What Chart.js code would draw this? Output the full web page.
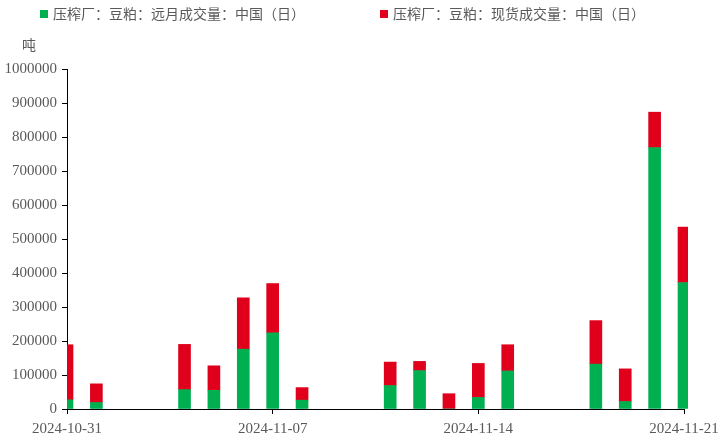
<!DOCTYPE html>
<html>
<head>
<meta charset="utf-8">
<script src="https://cdn.jsdelivr.net/npm/chart.js@4"></script>
<style>
html,body{margin:0;padding:0;background:#fff}
#wrap{width:720px;height:439px}
</style>
</head>
<body>
<div id="wrap"><canvas id="chart" width="720" height="439"></canvas></div>
<script>

const dates = ["2024-10-31","2024-11-01","2024-11-04","2024-11-05","2024-11-06","2024-11-07","2024-11-08",
"2024-11-11","2024-11-12","2024-11-13","2024-11-14","2024-11-15","2024-11-18","2024-11-19","2024-11-20","2024-11-21"]

// 远月成交量
const forward = [27000,19000,57000,55000,176000,224000,26000,69000,113000,0,34000,112000,132000,22000,769000,372000]
// 现货成交量
const spot = [162000,55000,133000,72000,151000,145000,37000,69000,27000,45000,100000,77000,128000,96000,104000,163000]

const tickLabels = ["2024-10-31","2024-11-07","2024-11-14","2024-11-21"]

const seriesNames = ["压榨厂：豆粕：远月成交量：中国（日）","压榨厂：豆粕：现货成交量：中国（日）"]
const colors = ["#00b050","#e0001b"]

const day0 = Date.parse(dates[0])
function dayIndex(d){
  return Math.round((Date.parse(d) - day0) / 86400000)
}

function toPoints(values){
  return values.map((v,i) => ({x: dayIndex(dates[i]), y: v}))
}

const cjk = "'Noto Sans CJK SC', sans-serif"
const serif = "'Liberation Serif', 'Times New Roman', serif"
const textColor = "#595959"

// legend and unit label drawn by hand so the spacing matches
const extras = {
  id: "extras",
  afterDraw(chart){
    const ctx = chart.ctx
    ctx.save()
    ctx.font = "14px " + cjk
    ctx.textBaseline = "middle"
    ctx.textAlign = "left"
    const xs = [40, 380]
    chart.data.datasets.forEach((ds,i) => {
      ctx.fillStyle = ds.backgroundColor
      ctx.fillRect(xs[i], 10, 8, 8)
      ctx.fillStyle = textColor
      ctx.fillText(ds.label, xs[i] + 13, 14)
    })
    ctx.fillText("吨", 22, 45)
    ctx.restore()
  }
}

const ctx = document.getElementById("chart")

new Chart(ctx,{
  type:"bar",
  data:{
    datasets:[
      {
        label: seriesNames[0],
        data: toPoints(forward),
        backgroundColor: colors[0],
        barThickness: 12,
        clip: {left:0, top:10, right:4, bottom:0}
      },
      {
        label: seriesNames[1],
        data: toPoints(spot),
        backgroundColor: colors[1],
        barThickness: 12,
        clip: {left:0, top:10, right:4, bottom:0}
      }
    ]
  },
  options:{
    responsive:false,
    animation:false,
    layout:{
      padding:{top:69, right:36, bottom:0, left:0}
    },
    plugins:{
      legend:{display:false},
      tooltip:{enabled:false}
    },
    scales:{
      x:{
        type:"linear",
        stacked:true,
        offset:false,
        min:0,
        max:21,
        grid:{
          offset:false,
          drawOnChartArea:false,
          drawTicks:true,
          tickLength:5,
          color:"#000"
        },
        border:{color:"#000", width:1},
        ticks:{
          stepSize:7,
          maxRotation:0,
          padding:6,
          color:textColor,
          font:{family:serif, size:15},
          callback:(v) => tickLabels[v/7]
        },
        afterFit:(scale) => {
          scale.height = 30
          scale.paddingLeft = 0
          scale.paddingRight = 0
        }
      },
      y:{
        stacked:true,
        min:0,
        max:1000000,
        grid:{
          drawOnChartArea:false,
          drawTicks:true,
          tickLength:5,
          color:"#000"
        },
        border:{color:"#000", width:1},
        ticks:{
          stepSize:100000,
          padding:5,
          color:textColor,
          font:{family:serif, size:15},
          callback:(v) => String(v)
        },
        afterFit:(scale) => { scale.width = 67 }
      }
    }
  },
  plugins:[extras]
})

</script>
</body>
</html>
